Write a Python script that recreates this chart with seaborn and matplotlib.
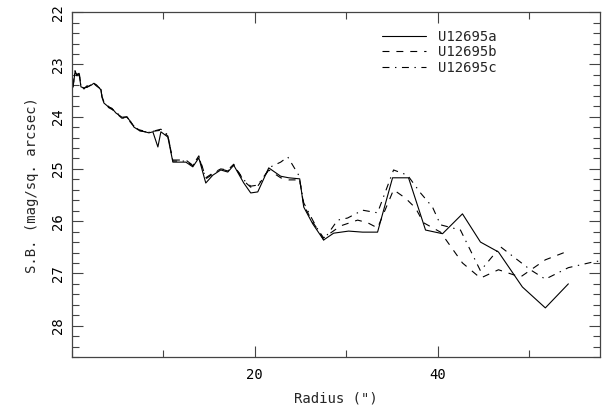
import matplotlib
matplotlib.use("Agg")
import matplotlib.pyplot as plt
import seaborn as sns
import pandas as pd
from matplotlib.ticker import MultipleLocator

# ---- data (radius in arcsec, surface brightness in mag/sq. arcsec) ----
radius_a = [0.11, 0.33, 0.55, 0.77, 0.98, 1.31, 1.64, 2.08, 2.40, 2.73, 3.17, 3.28, 3.50,
            4.04, 4.37, 4.81, 5.14, 5.46, 6.01, 6.45, 6.78, 7.32, 8.42, 8.85, 9.40, 9.73,
            10.49, 11.04, 12.46, 13.22, 13.88, 14.64, 15.41, 16.28, 17.05, 17.70, 18.80,
            19.56, 20.33, 21.53, 22.84, 23.72, 24.92, 25.36, 26.34, 27.54, 28.63, 30.27,
            31.80, 33.44, 35.08, 36.83, 38.69, 40.55, 42.73, 44.70, 46.67, 49.29, 51.80, 54.32]
sb_a = [23.43, 23.15, 23.20, 23.17, 23.43, 23.45, 23.43, 23.40, 23.36, 23.40, 23.49, 23.63, 23.74,
        23.82, 23.84, 23.93, 23.97, 24.01, 24.01, 24.10, 24.20, 24.26, 24.31, 24.29, 24.58, 24.29,
        24.39, 24.87, 24.87, 24.96, 24.79, 25.27, 25.12, 25.02, 25.06, 24.93, 25.27,
        25.46, 25.44, 24.98, 25.14, 25.17, 25.19, 25.73, 26.05, 26.36, 26.23, 26.19,
        26.21, 26.21, 25.17, 25.17, 26.17, 26.24, 25.86, 26.40, 26.59, 27.26, 27.66, 27.20]

radius_b = [0.11, 0.33, 0.55, 0.77, 0.98, 1.31, 1.64, 2.08, 2.40, 2.73, 3.17, 3.28, 3.50,
            4.04, 4.37, 4.81, 5.14, 5.46, 6.01, 6.45, 6.78, 7.32, 8.42, 8.85, 9.73,
            10.49, 11.04, 12.46, 13.22, 13.88, 14.64, 15.41, 16.28, 17.05, 17.70, 18.80,
            19.56, 20.33, 21.53, 22.84, 23.72, 24.92, 25.36, 26.34, 27.54, 29.40, 31.26,
            32.35, 33.44, 35.19, 36.50, 37.60, 38.47, 40.33, 42.73, 44.70, 46.67, 49.07,
            51.80, 54.32]
sb_b = [23.40, 23.12, 23.22, 23.14, 23.40, 23.47, 23.41, 23.38, 23.37, 23.42, 23.47, 23.61, 23.72,
        23.83, 23.86, 23.91, 23.98, 24.03, 24.02, 24.12, 24.18, 24.27, 24.30, 24.28, 24.26,
        24.37, 24.83, 24.83, 24.93, 24.75, 25.17, 25.08, 25.00, 25.02, 24.91, 25.23,
        25.35, 25.33, 25.02, 25.17, 25.21, 25.21, 25.69, 26.02, 26.32, 26.09, 25.98,
        26.03, 26.13, 25.40, 25.56, 25.75, 26.03, 26.21, 26.80, 27.09, 26.93, 27.07,
        26.74, 26.57]

radius_c = [0.11, 0.33, 0.55, 0.77, 0.98, 1.31, 1.64, 2.08, 2.40, 2.73, 3.17, 3.28, 3.50,
            4.04, 4.37, 4.81, 5.14, 5.46, 6.01, 6.45, 6.78, 7.32, 8.42, 8.85, 9.73,
            10.49, 11.04, 12.46, 13.22, 13.88, 14.64, 15.41, 16.28, 17.05, 17.70, 18.80,
            19.56, 20.33, 21.75, 22.84, 23.61, 24.81, 25.36, 26.34, 27.54, 29.07, 30.16,
            31.80, 33.44, 35.19, 36.72, 38.14, 39.45, 40.33, 42.51, 44.70, 46.89, 50.16,
            51.80, 54.32, 57.05, 57.81]
sb_c = [23.44, 23.13, 23.19, 23.18, 23.42, 23.44, 23.44, 23.39, 23.35, 23.41, 23.48, 23.62, 23.73,
        23.81, 23.85, 23.92, 23.96, 24.02, 24.00, 24.11, 24.19, 24.25, 24.30, 24.28, 24.24,
        24.35, 24.85, 24.85, 24.94, 24.77, 25.19, 25.10, 25.00, 25.04, 24.93, 25.21,
        25.33, 25.31, 24.96, 24.87, 24.77, 25.12, 25.65, 25.98, 26.36, 25.98, 25.94,
        25.79, 25.84, 25.02, 25.12, 25.46, 25.73, 26.07, 26.17, 26.95, 26.49, 26.93,
        27.11, 26.89, 26.78, 26.76]

labels = ["U12695a", "U12695b", "U12695c"]

# ---- style ----
sns.set_theme(style="ticks")
plt.rcParams["font.family"] = ["DejaVu Sans Mono", "DejaVu Sans"]
plt.rcParams["lines.scale_dashes"] = False

fig = plt.figure(figsize=(6.05, 4.2), dpi=100)
ax = fig.add_axes([0.119, 0.15, 0.873, 0.821])

series = [(radius_a, sb_a, labels[0], None),
          (radius_b, sb_b, labels[1], (5, 5)),
          (radius_c, sb_c, labels[2], (5, 4, 1, 4))]

for r, s, lab, dash in series:
    df = pd.DataFrame({"r": r, "sb": s})
    sns.lineplot(data=df, x="r", y="sb", color="black", linewidth=0.8, label=lab,
                 sort=False, estimator=None, ax=ax)
    if dash is not None:
        ax.lines[-1].set_dashes(dash)

ax.set_xlim(0, 57.8)
ax.set_ylim(28.6, 22)

ax.xaxis.set_major_locator(MultipleLocator(20))
ax.xaxis.set_minor_locator(MultipleLocator(10))
ax.yaxis.set_major_locator(MultipleLocator(1))
ax.yaxis.set_minor_locator(MultipleLocator(0.2))

ax.set_xticks([20, 40])
ax.tick_params(which="both", direction="in", top=True, right=True, color="#444444",
               labelsize=10, labelcolor="black")
ax.tick_params(which="major", length=8, width=0.8)
ax.tick_params(which="minor", length=5, width=0.8)
ax.tick_params(axis="x", pad=8)
ax.tick_params(axis="y", pad=5)
for lbl in ax.get_yticklabels():
    lbl.set_rotation(90)
    lbl.set_va("center")

for sp in ax.spines.values():
    sp.set_color("#444444")
    sp.set_linewidth(0.9)

ax.set_xlabel('Radius (")', fontsize=10, labelpad=7)
ax.set_ylabel("S.B. (mag/sq. arcsec)", fontsize=10, labelpad=9)

leg = ax.legend(loc="upper left", bbox_to_anchor=(0.576, 0.965), frameon=False,
                fontsize=10, handlelength=3.2, handletextpad=0.85, labelspacing=0.1,
                borderaxespad=0)

fig.savefig("out.png", dpi=100)
